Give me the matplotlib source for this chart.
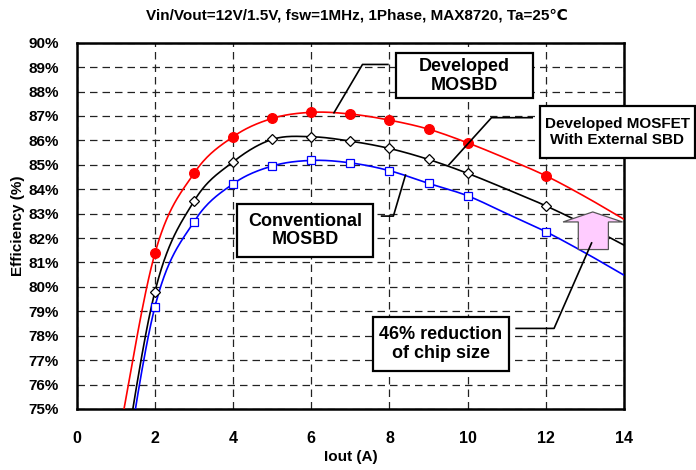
import numpy as np
import matplotlib
matplotlib.use('Agg')
import matplotlib.pyplot as plt
from matplotlib.patches import Rectangle, Polygon

plt.rcParams['font.family'] = ['Liberation Sans', 'DejaVu Sans']
plt.rcParams['font.weight'] = 'bold'
plt.rcParams['axes.labelweight'] = 'bold'

# efficiency (%) vs output current, read per 1 A step
iout = [1, 2, 3, 4, 5, 6, 7, 8, 9, 10, 11, 12, 13, 14]
mosbd_dev = [73.2, 81.37, 84.65, 86.15, 86.90, 87.15, 87.08, 86.83, 86.46, 85.90, 85.25, 84.55, 83.70, 82.77]
mosfet_sbd = [70.8, 79.80, 83.51, 85.12, 86.04, 86.15, 85.97, 85.67, 85.22, 84.65, 84.00, 83.32, 82.55, 81.71]
mosbd_conv = [70.1, 79.18, 82.67, 84.22, 84.95, 85.18, 85.08, 84.76, 84.24, 83.73, 83.00, 82.26, 81.40, 80.48]
marker_iout = [2, 3, 4, 5, 6, 7, 8, 9, 10, 12]

xticks = list(range(0, 15, 2))
yticks = list(range(75, 91))


def smooth(x, y, n=30):
    # Catmull-Rom curve through the measured points
    x = np.asarray(x, float)
    y = np.asarray(y, float)
    xs, ys = [], []
    for i in range(len(x) - 1):
        p0 = y[i - 1] if i > 0 else 2 * y[i] - y[i + 1]
        p1, p2 = y[i], y[i + 1]
        p3 = y[i + 2] if i + 2 < len(y) else 2 * y[i + 1] - y[i]
        t = np.linspace(0, 1, n, endpoint=False)
        xs.append(x[i] + t * (x[i + 1] - x[i]))
        ys.append(0.5 * (2 * p1 + (-p0 + p2) * t + (2 * p0 - 5 * p1 + 4 * p2 - p3) * t ** 2
                         + (-p0 + 3 * p1 - 3 * p2 + p3) * t ** 3))
    xs.append([x[-1]])
    ys.append([y[-1]])
    return np.concatenate(xs), np.concatenate(ys)


def pick(vals):
    return [vals[iout.index(v)] for v in marker_iout]


fig = plt.figure(figsize=(6.96, 4.70), dpi=100)
ax = fig.add_axes([0.1102, 0.1298, 0.7864, 0.7793])

for vals, col, mk, ms, face in [
        (mosbd_conv, 'blue', 's', 6.2, 'white'),
        (mosfet_sbd, 'black', 'D', 5.0, 'white'),
        (mosbd_dev, 'red', 'o', 7.0, 'red')]:
    sx, sy = smooth(iout, vals)
    ax.plot(sx, sy, color=col, lw=1.2, zorder=3)
    ax.plot(marker_iout, pick(vals), ls='none', marker=mk, ms=ms,
            mfc=face, mec=col, mew=0.9, zorder=4)

ax.set_xlim(0, 14)
ax.set_ylim(75, 90)
ax.set_xticks(xticks)
ax.set_yticks(yticks)
ax.set_yticklabels([f'{v}%' for v in yticks])
ax.tick_params(length=0, labelsize=11)
ax.tick_params(axis='x', pad=16, labelsize=11.5)
ax.tick_params(axis='y', pad=13)
ax.grid(True, color='#222222', lw=0.9, dashes=(6, 4))
ax.set_axisbelow(True)
for s in ax.spines.values():
    s.set_linewidth(1.8)

ax.set_xlabel('Iout (A)', fontsize=11)
ax.set_ylabel('Efficiency (%)', fontsize=11)
ax.xaxis.set_label_coords(0.5, -0.112)
ax.yaxis.set_label_coords(-0.094, 0.5)

fig.text(0.513, 0.968, 'Vin/Vout=12V/1.5V, fsw=1MHz, 1Phase, MAX8720, Ta=25\u2103',
         ha='center', va='center', fontsize=11)


def label_box(x0, x1, y0, y1, text, size):
    ax.add_patch(Rectangle((x0, y0), x1 - x0, y1 - y0, fc='white', ec='black',
                           lw=1.6, clip_on=False, zorder=6))
    ax.text((x0 + x1) / 2, (y0 + y1) / 2, text, ha='center', va='center',
            fontsize=size, linespacing=1.15, zorder=7, clip_on=False)


def leader(pts):
    px, py = zip(*pts)
    ax.plot(px, py, color='black', lw=1.2, clip_on=False, zorder=5)


label_box(8.17, 11.66, 87.72, 89.59, 'Developed\nMOSBD', 13)
leader([(7.96, 89.11), (7.31, 89.11), (6.58, 87.13)])

label_box(11.85, 15.81, 85.27, 87.41, 'Developed MOSFET\nWith External SBD', 11)
leader([(11.65, 86.93), (10.61, 86.93), (9.52, 85.0)])

label_box(4.09, 7.59, 81.23, 83.39, 'Conventional\nMOSBD', 13)
leader([(7.80, 82.9), (8.10, 82.9), (8.41, 84.58)])

# upward arrow for the chip-size reduction
ax.add_patch(Polygon([(12.83, 81.53), (12.83, 82.66), (12.44, 82.66), (13.20, 83.07),
                      (13.96, 82.66), (13.60, 82.66), (13.60, 81.53)],
                     closed=True, fc='#ffccff', ec='#555555', lw=0.9, zorder=5, clip_on=False))
label_box(7.57, 11.05, 76.56, 78.75, '46% reduction\nof chip size', 13)
leader([(11.24, 78.30), (12.21, 78.30), (13.17, 81.80)])

fig.savefig('out.png', dpi=100)
